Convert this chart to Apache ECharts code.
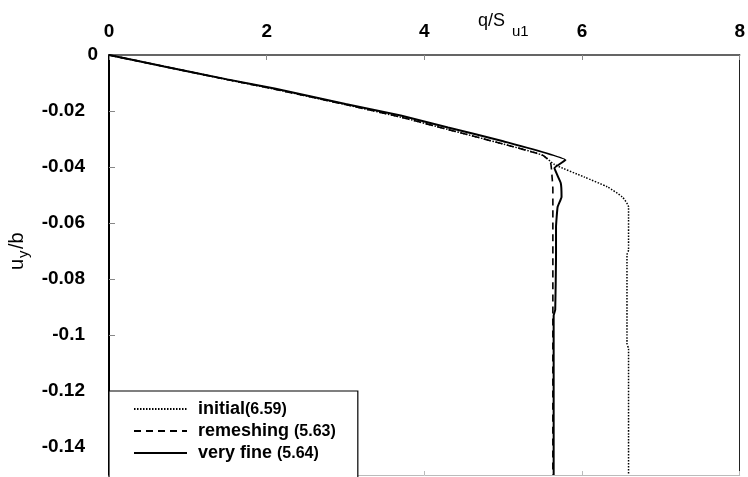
<!DOCTYPE html>
<html>
<head>
<meta charset="utf-8">
<script src="https://cdn.jsdelivr.net/npm/echarts@6/dist/echarts.min.js"></script>
<style>
  html, body { margin: 0; padding: 0; background: #fff; }
  #chart { width: 748px; height: 477px; }
</style>
</head>
<body>
<div id="chart"></div>
<script>
// Axis ticks
const qTicks = [0, 2, 4, 6, 8];
const uTicks = [0, -0.02, -0.04, -0.06, -0.08, -0.1, -0.12, -0.14];

// Legend entries (limit load in brackets)
const seriesNames = ['initial(6.59)', 'remeshing (5.63)', 'very fine (5.64)'];

// Load q/Su1 vs. settlement uy/b for each mesh
const initialQ = [0, 0.7, 1.5, 2.1, 3.0, 3.7, 4.3, 5.0, 5.5, 5.65, 6.03, 6.32, 6.51, 6.59, 6.59, 6.57, 6.57, 6.59, 6.59];
const initialU = [0, -0.0041, -0.0088, -0.0122, -0.0177, -0.0222, -0.0266, -0.0318, -0.0358, -0.0391, -0.0436, -0.0471, -0.0507, -0.0543, -0.0696, -0.0714, -0.103, -0.105, -0.15];

const remeshQ = [0, 0.7, 1.5, 2.1, 3.0, 3.7, 4.3, 5.0, 5.5, 5.6, 5.62, 5.63, 5.63];
const remeshU = [0, -0.0041, -0.0088, -0.0122, -0.0177, -0.0222, -0.0266, -0.0318, -0.0358, -0.0385, -0.0436, -0.048, -0.15];

const fineQ = [0, 0.7, 1.5, 2.1, 3.0, 3.7, 4.3, 5.0, 5.79, 5.65, 5.73, 5.74, 5.69, 5.67, 5.67, 5.66, 5.64, 5.64];
const fineU = [0, -0.0041, -0.0087, -0.012, -0.0175, -0.0216, -0.0259, -0.0308, -0.0375, -0.0404, -0.0457, -0.0507, -0.0543, -0.0614, -0.0721, -0.091, -0.093, -0.15];

const zip = (xs, ys) => xs.map((x, i) => [x, ys[i]]);

const FONT = '"Liberation Sans", Arial, Helvetica, sans-serif';

const chart = echarts.init(document.getElementById('chart'), null, { renderer: 'canvas' });

chart.setOption({
  animation: false,
  backgroundColor: '#fff',
  grid: { left: 109, right: 5, top: 55, bottom: 2 },
  xAxis: [
    {
      type: 'value',
      position: 'top',
      min: qTicks[0], max: qTicks[qTicks.length - 1], interval: 2,
      axisLine: { show: true, onZero: false, lineStyle: { color: '#333', width: 1.5 } },
      axisTick: { show: true, inside: true, length: 5, lineStyle: { color: '#888' } },
      axisLabel: {
        show: true, margin: 14, color: '#000',
        fontFamily: FONT, fontSize: 19, fontWeight: 'bold',
        customValues: qTicks
      },
      splitLine: { show: false }
    },
    {
      // bottom frame edge
      type: 'value',
      position: 'bottom',
      min: qTicks[0], max: qTicks[qTicks.length - 1], interval: 2,
      axisLine: { show: true, onZero: false, lineStyle: { color: '#bbb', width: 1 } },
      axisTick: { show: true, inside: true, length: 4, lineStyle: { color: '#bbb' } },
      axisLabel: { show: false },
      splitLine: { show: false }
    }
  ],
  yAxis: [
    {
      type: 'value',
      min: -0.15, max: 0,
      axisLine: { show: true, onZero: false, lineStyle: { color: '#000', width: 2 } },
      axisTick: { show: true, inside: true, length: 6, lineStyle: { color: '#888' }, customValues: uTicks },
      axisLabel: {
        show: true, margin: 24, color: '#000',
        fontFamily: FONT, fontSize: 19, fontWeight: 'bold',
        customValues: uTicks,
        // the zero label sits closer to the axis
        formatter: v => (v === 0 ? '{z|0}' : String(v)),
        rich: { z: { color: '#000', fontFamily: FONT, fontSize: 19, fontWeight: 'bold', padding: [0, -13, 0, 0] } }
      },
      splitLine: { show: false }
    },
    {
      // right frame edge
      type: 'value',
      position: 'right',
      min: -0.15, max: 0,
      axisLine: { show: true, onZero: false, lineStyle: { color: '#222', width: 1 } },
      axisTick: { show: false },
      axisLabel: { show: false },
      splitLine: { show: false }
    }
  ],
  legend: {
    orient: 'vertical',
    left: 109, top: 391, height: 120,
    data: seriesNames,
    backgroundColor: '#fff',
    borderColor: '#000', borderWidth: 1.2, borderRadius: 0,
    padding: [9, 22, 16, 24],
    itemWidth: 53, itemHeight: 16, itemGap: 4,
    itemStyle: { opacity: 0 },
    formatter: name => {
      const m = name.match(/^(.*?)(\s*)(\(.*\))$/);
      return m ? m[1] + m[2] + '{v|' + m[3] + '}' : name;
    },
    textStyle: {
      color: '#000', fontFamily: FONT, fontSize: 18, fontWeight: 'bold', lineHeight: 18, padding: [0, 0, 0, 6],
      rich: { v: { color: '#000', fontFamily: FONT, fontSize: 16, fontWeight: 'bold', lineHeight: 18, padding: [2, 0, 0, 0] } }
    }
  },
  series: [
    {
      name: seriesNames[0], type: 'line', symbol: 'none', smooth: 0.2,
      data: zip(initialQ, initialU),
      lineStyle: { color: '#000', width: 1.5, type: [1.5, 1.5] },
      itemStyle: { color: '#000' }
    },
    {
      name: seriesNames[1], type: 'line', symbol: 'none', smooth: 0.15,
      data: zip(remeshQ, remeshU),
      lineStyle: { color: '#000', width: 1.6, type: [7, 5] },
      itemStyle: { color: '#000' }
    },
    {
      name: seriesNames[2], type: 'line', symbol: 'none', smooth: 0.1,
      data: zip(fineQ, fineU),
      lineStyle: { color: '#000', width: 2 },
      itemStyle: { color: '#000' }
    }
  ],
  graphic: [
    // top axis title q/Su1
    { type: 'text', left: 478, top: 12, style: { text: 'q/S', fill: '#000', font: '18px ' + FONT } },
    { type: 'text', left: 512, top: 24, style: { text: 'u1', fill: '#000', font: '15px ' + FONT } },
    // left axis title uy/b, rotated
    {
      type: 'group', x: 17, y: 250, rotation: Math.PI / 2,
      children: [
        { type: 'text', x: -20, y: 0, style: { text: 'u', fill: '#000', font: '20px ' + FONT, textVerticalAlign: 'middle', textAlign: 'left' } },
        { type: 'text', x: -8, y: 7, style: { text: 'y', fill: '#000', font: '15px ' + FONT, textVerticalAlign: 'middle', textAlign: 'left' } },
        { type: 'text', x: 1, y: 0, style: { text: '/b', fill: '#000', font: '20px ' + FONT, textVerticalAlign: 'middle', textAlign: 'left' } }
      ]
    }
  ]
});
</script>
</body>
</html>
